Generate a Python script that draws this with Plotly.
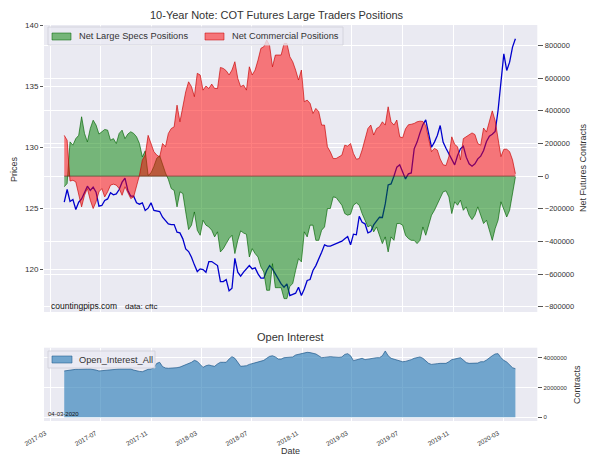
import pandas as pd
import plotly.graph_objects as go

start_date = "2017-04-04"
n_weeks = 157
title_main = "10-Year Note: COT Futures Large Traders Positions"
title_oi = "Open Interest"
legend_specs = "Net Large Specs Positions"
legend_comm = "Net Commercial Positions"
legend_oi = "Open_Interest_All"

prices = [
125.49,126.53,125.55,125.71,124.89,125.49,125.76,126.31,126.80,126.45,
126.72,126.31,125.16,125.22,125.63,125.76,126.26,126.09,126.17,126.53,
127.13,127.46,126.45,125.98,125.98,125.44,125.33,125.44,124.81,125.00,
125.44,124.81,124.75,124.73,124.26,123.99,123.72,123.66,123.66,123.03,
122.98,122.49,121.67,121.45,120.99,120.36,119.81,120.03,119.98,119.76,
120.63,120.63,120.50,120.30,118.99,118.99,119.16,118.23,118.45,120.90,
119.76,119.43,119.76,120.03,120.30,120.03,120.11,119.62,119.27,119.27,
119.90,120.30,120.03,119.62,119.21,118.80,118.53,118.80,117.85,117.98,
118.04,118.53,117.85,118.39,119.08,119.16,119.90,120.30,120.80,121.40,
122.00,121.89,121.89,122.00,122.11,122.22,122.30,122.49,122.68,122.00,
122.87,122.82,124.34,123.85,123.72,122.98,123.09,123.63,123.91,124.26,
124.24,125.35,126.91,126.99,127.62,128.36,128.55,127.95,127.40,127.81,
127.89,129.86,130.41,131.17,131.83,132.23,130.95,129.99,130.41,130.95,
131.77,130.41,129.91,129.45,128.99,128.55,129.31,129.86,130.08,129.18,
128.63,128.44,128.63,129.04,129.26,129.72,130.46,130.90,131.06,131.28,
133.00,135.46,137.64,136.28,136.96,138.19,138.87]

net_commercial_k = [
250,220,-30,-25,-35,-106,-188,-117,-76,-147,
-198,-157,-96,-76,-127,-96,-55,-49,-55,-76,
-117,-65,-106,-137,-127,-55,5,98,130,250,
200,150,129,118,200,180,262,292,302,435,
333,425,517,578,548,487,630,620,527,552,
537,564,537,537,666,660,646,620,650,701,
599,548,558,527,670,620,650,711,783,793,
834,800,670,742,742,742,813,813,732,701,
650,589,650,456,466,446,384,415,395,313,
313,180,149,108,108,118,129,190,184,200,
139,104,108,160,231,292,313,252,292,303,
333,313,425,333,313,344,241,235,290,315,
318,323,333,337,335,310,230,150,170,160,
105,70,65,120,241,195,180,100,230,240,
255,265,255,200,190,295,270,340,400,340,
240,120,165,165,150,100,15]

net_specs_k = [
-65,-45,210,190,230,250,364,262,210,292,
343,313,258,272,286,282,220,230,200,262,
282,230,258,272,262,241,200,118,155,5,
20,60,110,125,70,20,-20,-76,-87,-188,
-96,-106,-219,-327,-300,-219,-331,-362,-270,-300,
-311,-331,-372,-341,-464,-444,-413,-382,-362,-474,
-393,-335,-348,-356,-495,-444,-474,-495,-556,-587,
-699,-699,-536,-683,-683,-683,-750,-750,-675,-658,
-577,-505,-525,-341,-372,-300,-300,-393,-393,-331,
-311,-198,-198,-127,-131,-157,-178,-229,-239,-233,
-178,-164,-178,-229,-270,-311,-300,-341,-311,-362,
-413,-372,-464,-372,-393,-290,-290,-300,-362,-382,
-393,-393,-413,-393,-311,-362,-300,-239,-209,-168,
-127,-96,-90,-127,-229,-157,-178,-147,-209,-188,
-239,-266,-239,-188,-239,-290,-270,-331,-393,-321,
-270,-157,-198,-250,-209,-106,-5]

open_interest_m = [
3.11,3.15,3.17,3.20,3.22,3.22,3.24,3.22,3.24,3.24,
3.22,3.17,3.11,3.13,3.15,3.20,3.22,3.24,3.24,3.24,
3.24,3.24,3.24,3.24,3.17,3.11,3.08,3.06,3.15,3.22,
3.24,3.33,3.62,3.69,3.40,3.31,3.29,3.29,3.29,3.33,
3.37,3.44,3.51,3.58,3.69,3.82,3.75,3.55,3.35,3.46,
3.51,3.46,3.42,3.58,3.69,3.69,3.69,3.91,4.07,3.96,
3.69,3.42,3.44,3.46,3.55,3.60,3.67,3.73,3.80,3.82,
3.96,4.09,4.13,4.05,3.91,3.91,4.00,4.02,4.02,4.05,
4.18,4.22,4.27,4.31,4.36,4.34,4.29,4.25,4.13,4.00,
4.02,4.07,4.07,4.05,4.02,4.02,4.05,4.22,4.27,4.13,
3.80,3.84,3.89,3.96,3.87,3.91,3.96,3.98,4.00,4.00,
4.13,4.45,4.13,3.96,3.89,3.84,3.78,3.73,3.75,3.80,
3.87,3.96,4.02,4.05,3.96,3.78,3.62,3.55,3.55,3.60,
3.62,3.62,3.62,3.73,3.87,3.91,3.96,4.00,3.84,3.67,
3.62,3.62,3.62,3.64,3.73,3.73,3.84,4.00,4.13,4.25,
4.27,4.00,3.82,3.71,3.51,3.33,3.26]

dates = pd.date_range(start_date, periods=n_weeks, freq="7D")
specs = [v * 1000 for v in net_specs_k]
commercial = [v * 1000 for v in net_commercial_k]
oi = [v * 1e6 for v in open_interest_m]

FONT = "Liberation Sans"
TXT = "#333333"
BG = "#EAEAF2"
GREEN_FILL = "rgba(0,128,0,0.5)"
GREEN_LINE = "rgba(0,100,0,0.65)"
RED_FILL = "rgba(255,0,0,0.5)"
RED_LINE = "rgba(200,0,0,0.65)"
BLUE_FILL = "rgba(31,119,180,0.6)"
BLUE_LINE = "rgba(31,90,140,0.7)"
x_range = ["2017-02-14", "2020-05-23"]
x_ticks = pd.date_range("2017-03-01", "2020-03-01", freq="4MS")

# the page body adds an 8px offset, so the figure is 592x459 placed at (8, 8)
W, H, OFF = 592, 459, 8
def X(px):
    return (px - OFF) / W
def Y(py):
    return 1 - (py - OFF) / H

def rect(x0, x1, y0, y1, fill, line, width=0.8):
    return dict(type="rect", xref="paper", yref="paper", x0=X(x0), x1=X(x1), y0=Y(y1), y1=Y(y0),
                fillcolor=fill, line=dict(color=line, width=width))

def label(text, x, y, size, color=TXT, anchor="center", angle=0):
    return dict(text=text, xref="paper", yref="paper", x=X(x), y=Y(y), showarrow=False,
                textangle=angle, font=dict(size=size, color=color), xanchor=anchor, yanchor="middle")

fig = go.Figure()
fig.add_trace(go.Scatter(x=dates, y=prices, mode="lines", yaxis="y", xaxis="x",
    name="Price", line=dict(color="#0000CD", width=1.3), showlegend=False))
fig.add_trace(go.Scatter(x=dates, y=specs, mode="lines", yaxis="y2", xaxis="x",
    name=legend_specs, fill="tozeroy", fillcolor=GREEN_FILL,
    line=dict(color=GREEN_LINE, width=1), showlegend=False))
fig.add_trace(go.Scatter(x=dates, y=commercial, mode="lines", yaxis="y2", xaxis="x",
    name=legend_comm, fill="tozeroy", fillcolor=RED_FILL,
    line=dict(color=RED_LINE, width=1), showlegend=False))
fig.add_trace(go.Scatter(x=dates, y=oi, mode="lines", yaxis="y3", xaxis="x2",
    name=legend_oi, fill="tozeroy", fillcolor=BLUE_FILL,
    line=dict(color=BLUE_LINE, width=1), showlegend=False))

tick_font = dict(family=FONT, size=7.5, color=TXT)
axis_common = dict(showgrid=True, gridcolor="white", gridwidth=1, zeroline=False,
                   showline=False, ticks="outside", tickcolor="#555", tickwidth=0.8)
x_dom = [X(44), X(537.3)]
main_dom = [Y(312), Y(25)]
oi_dom = [Y(421), Y(347.7)]
BOX_FILL = "rgba(234,234,242,0.8)"
BOX_LINE = "#CFCFD8"
fig.update_layout(
    width=W, height=H, autosize=False, showlegend=False,
    margin=dict(l=0, r=0, t=0, b=0, pad=0, autoexpand=False),
    paper_bgcolor="white", plot_bgcolor=BG,
    font=dict(family=FONT, color=TXT),
    xaxis=dict(domain=x_dom, range=x_range, type="date", anchor="y",
               tickvals=list(x_ticks), showticklabels=False,
               showgrid=True, gridcolor="white", zeroline=False, ticks=""),
    yaxis=dict(domain=main_dom, range=[116.5, 140], tickvals=[120, 125, 130, 135, 140],
               side="left", anchor="x", ticklen=3, tickfont=dict(family=FONT, size=8, color=TXT),
               **axis_common),
    yaxis2=dict(domain=main_dom, range=[-832000, 926000], overlaying="y", side="right", anchor="x",
                tickvals=[-800000, -600000, -400000, -200000, 0, 200000, 400000, 600000, 800000],
                ticktext=["−800000", "−600000", "−400000", "−200000", "0", "200000", "400000", "600000", "800000"],
                ticklen=5, tickfont=tick_font, **axis_common),
    xaxis2=dict(domain=x_dom, range=x_range, type="date", anchor="y3",
                tickvals=list(x_ticks), tickformat="%Y-%m", tickangle=-30, ticklabelshift=-5,
                tickfont=dict(family=FONT, size=6.5, color=TXT),
                showgrid=True, gridcolor="white", zeroline=False,
                ticks="outside", ticklen=5, tickcolor="rgba(0,0,0,0)"),
    yaxis3=dict(domain=oi_dom, range=[-246000, 4670000], side="right", anchor="x2",
                tickvals=[0, 2000000, 4000000], tickformat="d", ticklen=4,
                tickfont=dict(family=FONT, size=6, color=TXT), **axis_common),
    shapes=[
        dict(type="line", xref="x", yref="y2", x0=dates[0], x1=dates[-1], y0=0, y1=0,
             line=dict(color="rgba(70,40,20,0.8)", width=0.8)),
        rect(48, 343, 27, 45, BOX_FILL, BOX_LINE),
        rect(52, 71, 33, 40, GREEN_FILL, GREEN_LINE),
        rect(205, 224, 33, 40, RED_FILL, RED_LINE),
        rect(48, 155, 351, 368, BOX_FILL, BOX_LINE),
        rect(52, 72, 356, 363, BLUE_FILL, BLUE_LINE),
    ],
    annotations=[
        label(title_main, 277, 15, 11),
        label(title_oi, 290, 337, 11),
        label("Prices", 14, 169, 9, angle=-90),
        label("Net Futures Contracts", 583, 168, 9, angle=-90),
        label("Contracts", 577, 385, 9, angle=-90),
        label("Date", 290, 451, 9),
        label("countingpips.com", 49, 306, 8.5, "#111", "left"),
        label("data: cftc", 123, 306, 8, "#111", "left"),
        label("04-03-2020", 46, 414, 6, "#111", "left"),
        label(legend_specs, 77, 36, 9.25, anchor="left"),
        label(legend_comm, 230, 36, 9.25, anchor="left"),
        label(legend_oi, 77, 360, 9.25, anchor="left"),
    ],
)
fig.write_html("out.html")
